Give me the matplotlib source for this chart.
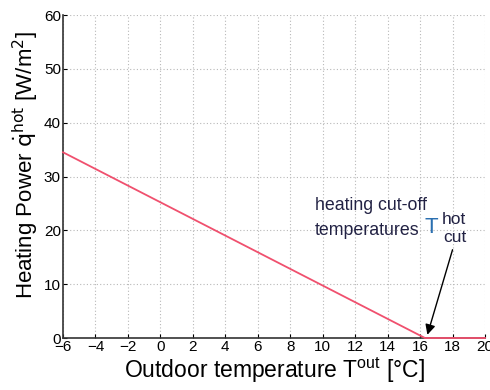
import matplotlib
matplotlib.use("Agg")
import matplotlib.pyplot as plt

plt.rcParams['font.family'] = ['Liberation Sans', 'DejaVu Sans']
plt.rcParams['mathtext.fontset'] = 'custom'
plt.rcParams['mathtext.rm'] = 'Liberation Sans'
plt.rcParams['mathtext.it'] = 'Liberation Sans:italic'

# Data
temps = [-6, 16.3, 20]
power = [34.5, 0, 0]
xticks = list(range(-6, 21, 2))
yticks = list(range(0, 61, 10))

fig = plt.figure(figsize=(4.9, 3.9), dpi=100)
ax = fig.add_axes([0.1286, 0.1333, 0.8612, 0.8282])

ax.plot(temps, power, color='#f0506e', lw=1.3, clip_on=False, zorder=3)

ax.set_xlim(-6, 20)
ax.set_ylim(0, 60)
ax.set_xticks(xticks)
ax.set_yticks(yticks)
ax.set_xticklabels([str(t).replace('-', '\u2212') for t in xticks])
ax.tick_params(direction='in', labelsize=11, length=3, width=0.8, pad=1.5)
ax.grid(True, linestyle=(0, (1, 2)), color='#b8b8b8', linewidth=0.8)
for s in ['top', 'right']:
    ax.spines[s].set_visible(False)
for s in ['left', 'bottom']:
    ax.spines[s].set_linewidth(1.2)
    ax.spines[s].set_color('#333333')

ax.set_xlabel(r'Outdoor temperature T$^{\mathrm{out}}$ [°C]', fontsize=16.5, labelpad=1)
ax.set_ylabel(r'Heating Power $\dot{\mathrm{q}}^{\mathrm{hot}}$ [W/m$^{\mathrm{2}}$]', fontsize=16,
              math_fontfamily='dejavusans')
ax.yaxis.set_label_coords(-0.052, 0.535)

tc = '#222244'
ax.text(9.53, 24.7, 'heating cut-off', fontsize=12.8, va='center', ha='left', color=tc)
ax.text(9.53, 20.06, 'temperatures', fontsize=12.8, va='center', ha='left', color=tc)
ax.text(16.3, 20.6, 'T', fontsize=16, va='center', ha='left', color='#2a6fb0')
ax.text(17.35, 22.1, 'hot', fontsize=12.5, va='center', ha='left', color=tc)
ax.text(17.4, 18.76, 'cut', fontsize=12.5, va='center', ha='left', color=tc)

ax.annotate('', xy=(16.45, 0.6), xytext=(18.0, 16.4),
            arrowprops=dict(arrowstyle='-|>', color='black', lw=1.0,
                            mutation_scale=15, shrinkA=0, shrinkB=0))

fig.savefig('out.png', dpi=100)
